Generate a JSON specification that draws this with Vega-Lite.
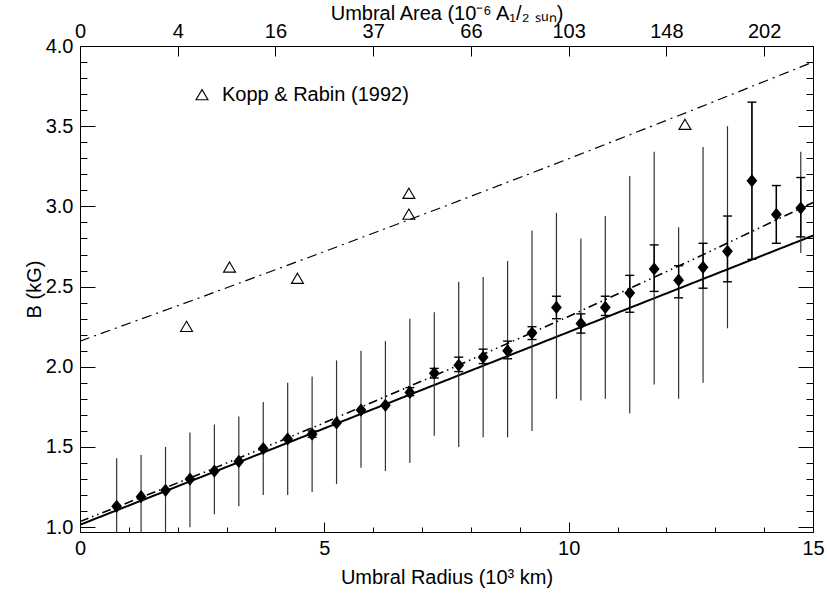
{
  "$schema": "https://vega.github.io/schema/vega-lite/v6.json",
  "width": 733,
  "height": 486,
  "autosize": "none",
  "padding": {"left": 80, "top": 46, "right": 14, "bottom": 62},
  "config": {
    "view": {"stroke": "black", "strokeWidth": 1},
    "font": "Liberation Sans",
    "axis": {
      "domain": false, "grid": false, "labelFlush": false,
      "tickColor": "black", "tickWidth": 1,
      "labelFont": "Liberation Sans", "labelFontSize": 20, "labelColor": "black",
      "titleFont": "Liberation Sans", "titleFontSize": 20, "titleFontWeight": "normal", "titleColor": "black"
    }
  },
  "datasets": {
    "pts": [
      {"r": 0.75, "B": 1.13, "slo": 0.83, "shi": 1.43, "elo": null, "ehi": null},
      {"r": 1.25, "B": 1.19, "slo": 0.93, "shi": 1.45, "elo": null, "ehi": null},
      {"r": 1.75, "B": 1.23, "slo": 0.97, "shi": 1.50, "elo": null, "ehi": null},
      {"r": 2.25, "B": 1.30, "slo": 1.00, "shi": 1.59, "elo": null, "ehi": null},
      {"r": 2.75, "B": 1.35, "slo": 1.08, "shi": 1.64, "elo": null, "ehi": null},
      {"r": 3.25, "B": 1.41, "slo": 1.13, "shi": 1.69, "elo": null, "ehi": null},
      {"r": 3.75, "B": 1.49, "slo": 1.20, "shi": 1.78, "elo": null, "ehi": null},
      {"r": 4.25, "B": 1.55, "slo": 1.20, "shi": 1.90, "elo": null, "ehi": null},
      {"r": 4.75, "B": 1.58, "slo": 1.22, "shi": 1.94, "elo": 1.56, "ehi": 1.60},
      {"r": 5.25, "B": 1.65, "slo": 1.27, "shi": 2.04, "elo": null, "ehi": null},
      {"r": 5.75, "B": 1.73, "slo": 1.37, "shi": 2.10, "elo": null, "ehi": null},
      {"r": 6.25, "B": 1.76, "slo": 1.35, "shi": 2.16, "elo": null, "ehi": null},
      {"r": 6.75, "B": 1.84, "slo": 1.40, "shi": 2.30, "elo": 1.82, "ehi": 1.87},
      {"r": 7.25, "B": 1.96, "slo": 1.57, "shi": 2.34, "elo": 1.93, "ehi": 1.99},
      {"r": 7.75, "B": 2.01, "slo": 1.50, "shi": 2.53, "elo": 1.97, "ehi": 2.06},
      {"r": 8.25, "B": 2.06, "slo": 1.56, "shi": 2.56, "elo": 2.02, "ehi": 2.11},
      {"r": 8.75, "B": 2.10, "slo": 1.56, "shi": 2.66, "elo": 2.05, "ehi": 2.16},
      {"r": 9.25, "B": 2.21, "slo": 1.60, "shi": 2.85, "elo": 2.17, "ehi": 2.25},
      {"r": 9.75, "B": 2.37, "slo": 1.80, "shi": 2.96, "elo": 2.30, "ehi": 2.44},
      {"r": 10.25, "B": 2.27, "slo": 1.79, "shi": 2.80, "elo": 2.21, "ehi": 2.33},
      {"r": 10.75, "B": 2.37, "slo": 1.80, "shi": 2.94, "elo": 2.32, "ehi": 2.44},
      {"r": 11.25, "B": 2.46, "slo": 1.71, "shi": 3.19, "elo": 2.34, "ehi": 2.57},
      {"r": 11.75, "B": 2.61, "slo": 1.89, "shi": 3.34, "elo": 2.47, "ehi": 2.76},
      {"r": 12.25, "B": 2.54, "slo": 1.80, "shi": 2.87, "elo": 2.43, "ehi": 2.63},
      {"r": 12.75, "B": 2.62, "slo": 1.90, "shi": 3.37, "elo": 2.49, "ehi": 2.77},
      {"r": 13.25, "B": 2.72, "slo": 2.24, "shi": 3.50, "elo": 2.53, "ehi": 2.94},
      {"r": 13.75, "B": 3.16, "slo": 2.67, "shi": 3.65, "elo": 2.67, "ehi": 3.65},
      {"r": 14.25, "B": 2.95, "slo": 2.77, "shi": 3.13, "elo": 2.77, "ehi": 3.13},
      {"r": 14.75, "B": 2.99, "slo": 2.71, "shi": 3.34, "elo": 2.81, "ehi": 3.18}
    ],
    "kr": [
      {"r": 2.18, "B": 2.25, "src": "Kopp & Rabin (1992)"},
      {"r": 3.06, "B": 2.62, "src": "Kopp & Rabin (1992)"},
      {"r": 4.45, "B": 2.55, "src": "Kopp & Rabin (1992)"},
      {"r": 6.73, "B": 3.08, "src": "Kopp & Rabin (1992)"},
      {"r": 6.73, "B": 2.95, "src": "Kopp & Rabin (1992)"},
      {"r": 12.38, "B": 3.51, "src": "Kopp & Rabin (1992)"}
    ],
    "fits": [
      {"r": 0, "B": 1.015, "fit": "solid"},
      {"r": 15, "B": 2.818, "fit": "solid"},
      {"r": 0, "B": 1.035, "fit": "dd"},
      {"r": 2.5, "B": 1.337, "fit": "dd"},
      {"r": 5, "B": 1.651, "fit": "dd"},
      {"r": 7.5, "B": 1.977, "fit": "dd"},
      {"r": 10, "B": 2.314, "fit": "dd"},
      {"r": 12.5, "B": 2.663, "fit": "dd"},
      {"r": 15, "B": 3.024, "fit": "dd"},
      {"r": 0, "B": 2.16, "fit": "kr"},
      {"r": 2.5, "B": 2.436, "fit": "kr"},
      {"r": 5, "B": 2.718, "fit": "kr"},
      {"r": 7.5, "B": 3.005, "fit": "kr"},
      {"r": 10, "B": 3.297, "fit": "kr"},
      {"r": 12.5, "B": 3.596, "fit": "kr"},
      {"r": 15, "B": 3.90, "fit": "kr"}
    ]
  },
  "layer": [
    {
      "data": {"name": "fits"},
      "mark": {"type": "line", "clip": true, "color": "black"},
      "encoding": {
        "x": {"field": "r", "type": "quantitative", "scale": {"domain": [0, 15], "nice": false, "zero": false},
              "axis": {"orient": "bottom", "values": [0, 5, 10, 15], "tickSize": -10, "labelPadding": 16, "title": "Umbral Radius (10³ km)", "titlePadding": 9}},
        "y": {"field": "B", "type": "quantitative", "scale": {"domain": [0.97, 4.0], "nice": false, "zero": false},
              "axis": {"orient": "left", "values": [1.0, 1.5, 2.0, 2.5, 3.0, 3.5, 4.0], "format": ".1f", "tickSize": -15, "labelPadding": 22, "title": "B (kG)", "titlePadding": 1}},
        "detail": {"field": "fit"},
        "strokeDash": {"field": "fit", "type": "nominal", "scale": {"domain": ["solid", "dd", "kr"], "range": [[1, 0], [9, 4, 1.5, 4, 1.5, 4], [10, 5, 2, 5]]}, "legend": null},
        "strokeWidth": {"field": "fit", "type": "nominal", "scale": {"domain": ["solid", "dd", "kr"], "range": [2, 1.2, 1.2]}, "legend": null}
      }
    },
    {
      "data": {"name": "pts"},
      "mark": {"type": "rule", "clip": true, "color": "#333333", "strokeWidth": 1.2},
      "encoding": {
        "x": {"field": "r", "type": "quantitative", "scale": {"domain": [0, 15], "nice": false, "zero": false},
              "axis": {"orient": "bottom", "values": [0,1,2,3,4,5,6,7,8,9,10,11,12,13,14,15], "tickSize": -5, "labels": false, "title": null}},
        "y": {"field": "slo", "type": "quantitative", "scale": {"domain": [0.97, 4.0], "nice": false, "zero": false},
              "axis": {"orient": "left", "values": [1.0,1.1,1.2,1.3,1.4,1.5,1.6,1.7,1.8,1.9,2.0,2.1,2.2,2.3,2.4,2.5,2.6,2.7,2.8,2.9,3.0,3.1,3.2,3.3,3.4,3.5,3.6,3.7,3.8,3.9,4.0], "tickSize": -7, "labels": false, "title": null}},
        "y2": {"field": "shi"}
      }
    },
    {
      "data": {"name": "pts"},
      "transform": [{"filter": "datum.elo != null"}],
      "mark": {"type": "rule", "clip": true, "color": "black", "strokeWidth": 1.4},
      "encoding": {
        "x": {"field": "r", "type": "quantitative", "scale": {"domain": [0, 15], "nice": false, "zero": false},
              "axis": {"orient": "top", "values": [0, 2, 4, 6, 8, 10, 12, 14], "tickSize": -10, "labelPadding": 15,
                       "labelExpr": "['0','4','16','37','66','103','148','202'][round(datum.value/2)]",
                       "title": "Umbral Area (10⁻⁶ A₁/₂ ₛᵤₙ)", "titlePadding": -2}},
        "y": {"field": "elo", "type": "quantitative", "scale": {"domain": [0.97, 4.0], "nice": false, "zero": false},
              "axis": {"orient": "right", "values": [1.0, 1.5, 2.0, 2.5, 3.0, 3.5, 4.0], "tickSize": -15, "labels": false, "title": null}},
        "y2": {"field": "ehi"}
      }
    },
    {
      "data": {"name": "pts"},
      "transform": [{"filter": "datum.elo != null"}, {"fold": ["elo", "ehi"], "as": ["end", "val"]}],
      "mark": {"type": "point", "shape": "stroke", "size": 81, "color": "black", "strokeWidth": 1.4, "filled": false, "opacity": 1},
      "encoding": {
        "x": {"field": "r", "type": "quantitative", "scale": {"domain": [0, 15], "nice": false, "zero": false}, "axis": null},
        "y": {"field": "val", "type": "quantitative", "scale": {"domain": [0.97, 4.0], "nice": false, "zero": false},
              "axis": {"orient": "right", "values": [1.0,1.1,1.2,1.3,1.4,1.5,1.6,1.7,1.8,1.9,2.0,2.1,2.2,2.3,2.4,2.5,2.6,2.7,2.8,2.9,3.0,3.1,3.2,3.3,3.4,3.5,3.6,3.7,3.8,3.9,4.0], "tickSize": -7, "labels": false, "title": null}}
      }
    },
    {
      "data": {"name": "kr"},
      "mark": {"type": "point", "filled": false, "strokeWidth": 1.1, "opacity": 1, "size": 144},
      "encoding": {
        "x": {"field": "r", "type": "quantitative", "scale": {"domain": [0, 15], "nice": false, "zero": false}, "axis": null},
        "y": {"field": "B", "type": "quantitative", "scale": {"domain": [0.97, 4.0], "nice": false, "zero": false}, "axis": null},
        "shape": {"field": "src", "type": "nominal", "scale": {"range": ["M0,-0.9L1,0.8L-1,0.8Z"]},
                  "legend": {"title": null, "orient": "none", "legendX": 112, "legendY": 39, "labelFontSize": 20, "labelFont": "Liberation Sans", "labelColor": "black", "labelLimit": 0, "symbolSize": 144, "symbolStrokeColor": "black", "symbolStrokeWidth": 1.1, "symbolFillColor": "transparent", "labelOffset": 10, "padding": 0}},
        "color": {"value": "black"}
      }
    },
    {
      "data": {"name": "pts"},
      "mark": {"type": "point", "shape": "M0,-1.1L0.9,0L0,1.1L-0.9,0Z", "filled": true, "color": "black", "opacity": 1, "size": 144},
      "encoding": {
        "x": {"field": "r", "type": "quantitative", "scale": {"domain": [0, 15], "nice": false, "zero": false}, "axis": null},
        "y": {"field": "B", "type": "quantitative", "scale": {"domain": [0.97, 4.0], "nice": false, "zero": false}, "axis": null}
      }
    }
  ],
  "resolve": {"axis": {"x": "independent", "y": "independent"}}
}
